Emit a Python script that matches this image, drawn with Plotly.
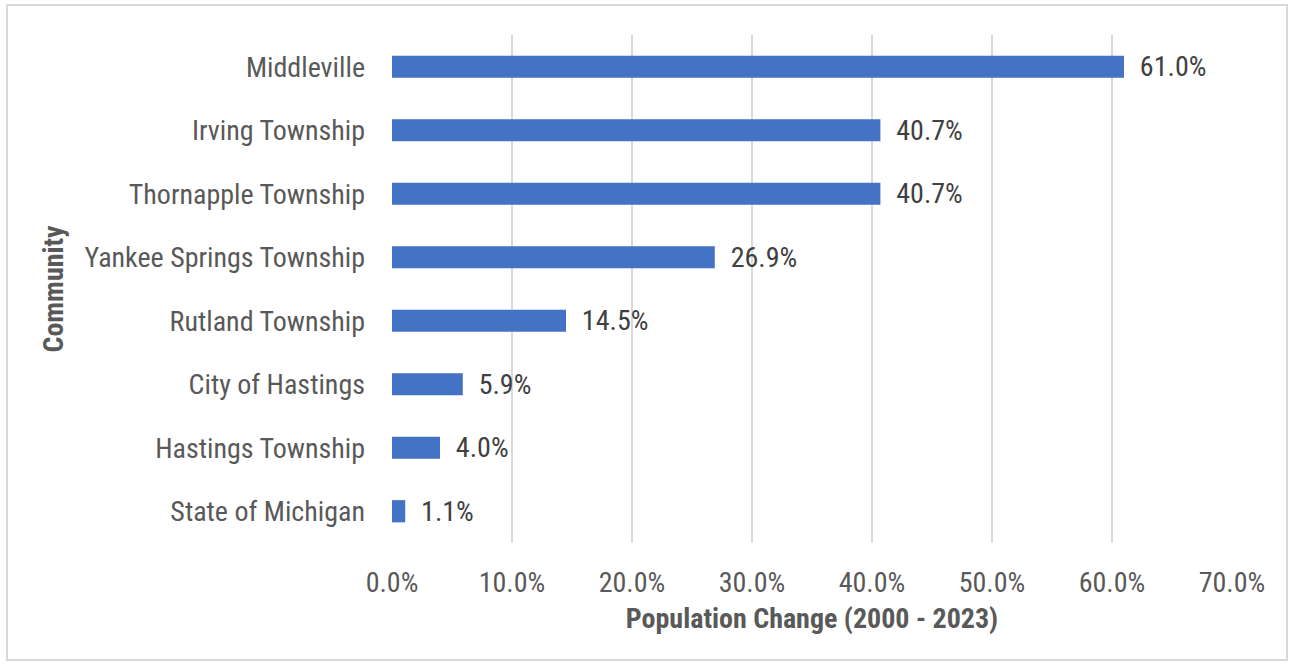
import plotly.graph_objects as go

# Population change by community, 2000 - 2023 (percent)
communities = [
    "State of Michigan",
    "Hastings Township",
    "City of Hastings",
    "Rutland Township",
    "Yankee Springs Township",
    "Thornapple Township",
    "Irving Township",
    "Middleville",
]
change_pct = [1.1, 4.0, 5.9, 14.5, 26.9, 40.7, 40.7, 61.0]

x_ticks = [0, 10, 20, 30, 40, 50, 60, 70]
x_tick_labels = [f"{v:.1f}%" for v in x_ticks]

FONT = "Roboto Condensed, Roboto, Arial Narrow, sans-serif"
SIZE = 28
GRID = "#d9d9d9"

fig = go.Figure(
    go.Bar(
        x=change_pct,
        y=communities,
        orientation="h",
        marker=dict(color="#4472c4", line=dict(width=0)),
        text=[f"  {v:.1f}%" for v in change_pct],
        textposition="outside",
        constraintext="none",
        textfont=dict(family=FONT, size=SIZE, color="#404040"),
        cliponaxis=False,
        hoverinfo="skip",
    )
)

fig.update_layout(
    width=1294,
    height=666,
    margin=dict(l=392, r=62, t=35, b=123),
    paper_bgcolor="white",
    plot_bgcolor="white",
    bargap=0.65,
    showlegend=False,
    uniformtext=dict(minsize=SIZE, mode="show"),
    font=dict(family=FONT, color="#595959", size=SIZE),
    xaxis=dict(
        range=[0, 70],
        tickvals=x_ticks,
        ticktext=x_tick_labels,
        showgrid=True,
        gridcolor=GRID,
        gridwidth=2,
        zeroline=False,
        showline=False,
        ticks="",
        ticklabelstandoff=20,
        tickfont=dict(family=FONT, size=SIZE, color="#595959"),
        title=dict(
            text="<b>Population Change (2000 - 2023)</b>",
            font=dict(family=FONT, size=SIZE, color="#595959"),
            standoff=10,
        ),
    ),
    yaxis=dict(
        categoryorder="array",
        categoryarray=communities,
        showgrid=False,
        zeroline=False,
        showline=False,
        ticks="",
        ticklabelstandoff=26,
        tickfont=dict(family=FONT, size=SIZE, color="#595959"),
        title=dict(
            text="<b>Community</b>",
            font=dict(family=FONT, size=SIZE, color="#595959"),
            standoff=12,
        ),
    ),
    shapes=[
        dict(
            type="rect",
            xref="paper",
            yref="paper",
            x0=(7 - 392) / 840,
            x1=(1287 - 392) / 840,
            y0=(543 - 660) / 508,
            y1=(543 - 5) / 508,
            line=dict(color=GRID, width=2),
            fillcolor="rgba(0,0,0,0)",
            layer="below",
        )
    ],
)

fig.write_html("out.html")
